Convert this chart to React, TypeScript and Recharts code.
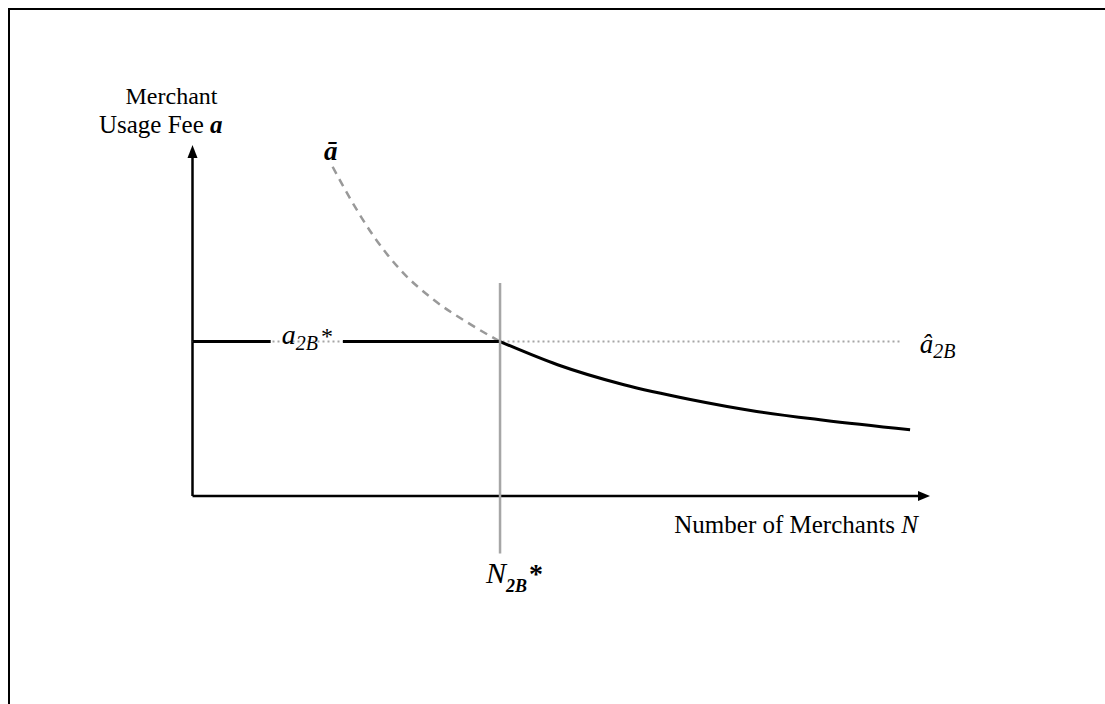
import React from 'react'
import { LineChart, Line, XAxis, YAxis, ReferenceLine, ReferenceDot } from 'recharts'

// equilibrium fee a2B* and merchant count N2B*
const a2BStar = 44
const n2BStar = 41.7

// solid black curve to the right of N2B*
const curveN = [41.7, 49.5, 58.5, 67.5, 76.5, 85.6, 97.3]
const curveA = [44.0, 37.4, 31.7, 27.5, 24.1, 21.6, 18.9]

// dashed a-bar curve to the left of N2B*
const barN = [19.0, 21.5, 24.6, 28.2, 32.7, 37.3, 41.7]
const barA = [93.8, 84.3, 73.9, 64.4, 55.9, 49.4, 44.0]

// flat a2B* segment, with a gap where its label sits
const flatN = [0, 10.6, 15, 20.4, 41.7]
const flatA = [a2BStar, a2BStar, null, a2BStar, a2BStar]

// dotted a-hat line
const hatN = [0, 95.9]

const FONT = '"Liberation Serif", "Times New Roman", serif'

const curveData = curveN.map((n, i) => ({ n, a: curveA[i] }))
const barData = barN.map((n, i) => ({ n, a: barA[i] }))
const flatData = flatN.map((n, i) => ({ n, a: flatA[i] }))
const hatData = hatN.map((n) => ({ n, a: a2BStar }))

const label = (dx: number, dy: number, body: React.ReactNode, anchor: string = 'start') =>
  (props: any) => (
    <text x={props.cx + dx} y={props.cy + dy} textAnchor={anchor} fontFamily={FONT} fill="#000">
      {body}
    </text>
  )

export default function App() {
  return (
    <div style={{ position: 'relative', width: 1089, height: 688 }}>
      <LineChart
        width={1089}
        height={688}
        margin={{ top: 137, right: 167, bottom: 200, left: 184.5 }}
      >
        <XAxis type="number" dataKey="n" domain={[0, 100]} hide allowDataOverflow />
        <YAxis type="number" dataKey="a" domain={[0, 100]} hide allowDataOverflow />

        {/* axes */}
        <ReferenceLine segment={[{ x: 0, y: 0 }, { x: 98.6, y: 0 }]} stroke="#000" strokeWidth={2.5} ifOverflow="visible" />
        <ReferenceLine segment={[{ x: 0, y: 0 }, { x: 0, y: 97 }]} stroke="#000" strokeWidth={2.5} ifOverflow="visible" />
        <ReferenceDot x={100} y={0} r={0} ifOverflow="visible"
          shape={(p: any) => <polygon points={`${p.cx},${p.cy} ${p.cx - 12},${p.cy - 5} ${p.cx - 12},${p.cy + 5}`} fill="#000" />} />
        <ReferenceDot x={0} y={100} r={0} ifOverflow="visible"
          shape={(p: any) => <polygon points={`${p.cx},${p.cy} ${p.cx - 5},${p.cy + 13} ${p.cx + 5},${p.cy + 13}`} fill="#000" />} />

        <Line data={hatData} dataKey="a" stroke="#a6a6a6" strokeWidth={2} strokeDasharray="2 3"
          dot={false} activeDot={false} isAnimationActive={false} />
        <Line data={barData} dataKey="a" type="monotone" stroke="#999999" strokeWidth={2.5} strokeDasharray="8 6"
          dot={false} activeDot={false} isAnimationActive={false} />
        <Line data={flatData} dataKey="a" stroke="#000" strokeWidth={3}
          dot={false} activeDot={false} isAnimationActive={false} />
        <Line data={curveData} dataKey="a" type="monotone" stroke="#000" strokeWidth={3}
          dot={false} activeDot={false} isAnimationActive={false} />

        <ReferenceLine segment={[{ x: n2BStar, y: 60.7 }, { x: n2BStar, y: -16.4 }]} stroke="#a6a6a6" strokeWidth={2.5} ifOverflow="visible" />

        {/* labels */}
        <ReferenceDot x={0} y={100} r={0} ifOverflow="visible"
          shape={label(-21, -41, <tspan fontSize={24}>Merchant</tspan>, 'middle')} />
        <ReferenceDot x={0} y={100} r={0} ifOverflow="visible"
          shape={label(30, -12, <>
            <tspan fontSize={25}>Usage Fee </tspan>
            <tspan fontSize={25} fontStyle="italic" fontWeight="bold">a</tspan>
          </>, 'end')} />
        <ReferenceDot x={barN[0]} y={barA[0]} r={0} ifOverflow="visible"
          shape={label(-2, -7, <tspan fontSize={27} fontStyle="italic" fontWeight="bold">ā</tspan>, 'middle')} />
        <ReferenceDot x={flatN[1]} y={a2BStar} r={0} ifOverflow="visible"
          shape={label(11, 2, <>
            <tspan fontSize={28} fontStyle="italic">a</tspan>
            <tspan fontSize={20} fontStyle="italic" dy={6}>2B</tspan>
            <tspan fontSize={24} dy={-6} dx={3}>*</tspan>
          </>)} />
        <ReferenceDot x={hatN[1]} y={a2BStar} r={0} ifOverflow="visible"
          shape={label(20, 11, <>
            <tspan fontSize={27} fontStyle="italic">â</tspan>
            <tspan fontSize={20} fontStyle="italic" dy={5}>2B</tspan>
          </>)} />
        <ReferenceDot x={100} y={0} r={0} ifOverflow="visible"
          shape={label(-12, 37, <>
            <tspan fontSize={25}>Number of Merchants </tspan>
            <tspan fontSize={25} fontStyle="italic">N</tspan>
          </>, 'end')} />
        <ReferenceDot x={n2BStar} y={-16.4} r={0} ifOverflow="visible"
          shape={label(-14, 29, <>
            <tspan fontSize={30} fontStyle="italic">N</tspan>
            <tspan fontSize={18} fontStyle="italic" fontWeight="bold" dy={9}>2B</tspan>
            <tspan fontSize={28} fontWeight="bold" dy={-9} dx={2}>*</tspan>
          </>)} />
      </LineChart>
      <div style={{ position: 'fixed', left: 8, top: 8, right: 0, bottom: 0, borderTop: '2px solid #000', borderLeft: '2px solid #000', pointerEvents: 'none' }} />
    </div>
  )
}
